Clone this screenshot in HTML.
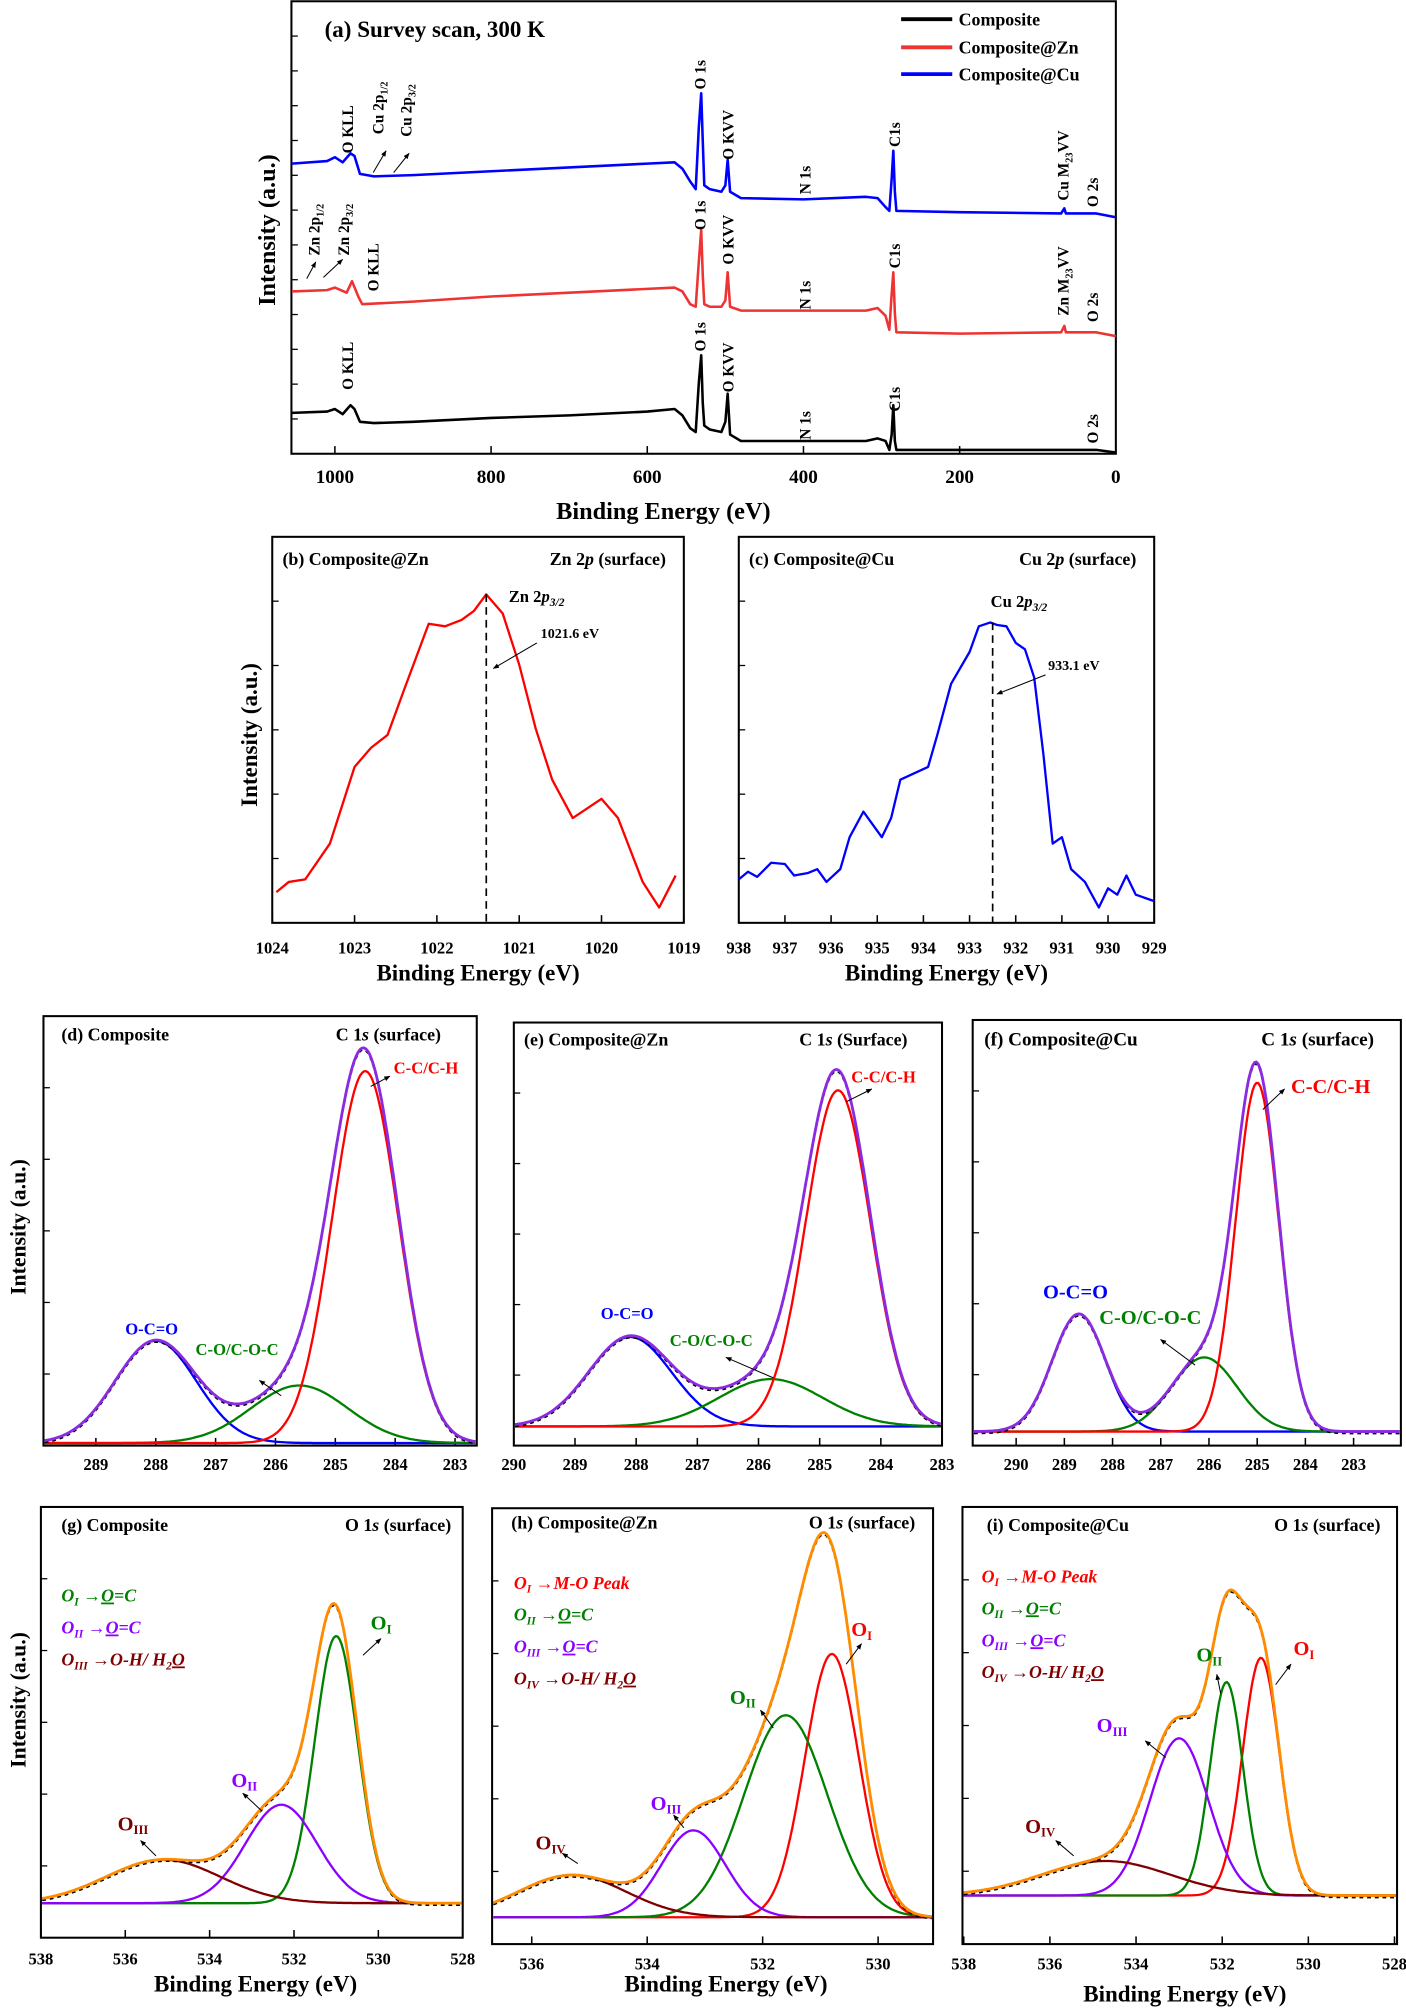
<!DOCTYPE html>
<html><head><meta charset="utf-8">
<style>
html,body{margin:0;padding:0;background:#fff;}
svg{display:block;font-family:"Liberation Serif",serif;font-weight:bold;}
</style></head>
<body>
<svg id="fig" width="1406" height="2008" viewBox="0 0 1100 1571" xmlns="http://www.w3.org/2000/svg">
<defs>
<marker id="ah" viewBox="0 0 10 10" refX="9" refY="5" markerWidth="6" markerHeight="6" orient="auto"><path d="M0,1 L10,5 L0,9 z" fill="#000"/></marker>
</defs>
</svg>
<script>
// ---------- Panel (a) survey data ----------
const surveyE = [1055,1010,1000,990,980,975,968,950,900,800,700,600,565,555,545,538,534,531,529,527,520,505,500,497,494,480,400,320,305,295,290,287,285,283,281,200,70,66,64,25,0];
const surveyBlue = [227,229,232,228,235,233,219,217,218,221,224,227,228,223,213,207,255,282,245,210,207,205,210,230,205,200,199,201,200,193,190,215,237,205,190,189,188,192,188,188,185];
const surveyBlack = [32,33,35,31,38,35,25,24,25,28,30,33,35,30,20,17,55,77,40,22,19,17,25,47,15,10,10,10,12,10,3,15,38,10,3,3,3,3,3,3,1];
const surveyRedE = [1055,1010,1000,985,978,970,965,900,800,700,600,565,555,545,538,534,531,529,527,520,505,500,497,494,480,400,320,305,295,290,287,285,283,281,200,70,66,64,25,0];
const surveyRed = [127,128,130,126,135,123,117,119,123,126,129,130,127,117,115,150,175,140,117,115,115,120,142,115,112,112,112,114,108,97,125,142,110,95,94,95,100,95,95,92];
const surveyTicks = [1000,800,600,400,200,0];

// ---------- Panel (b) Zn 2p ----------
const znE = [1023.95,1023.8,1023.6,1023.3,1023.0,1022.8,1022.6,1022.4,1022.1,1021.9,1021.7,1021.55,1021.4,1021.2,1021.0,1020.8,1020.6,1020.35,1020.0,1019.8,1019.5,1019.3,1019.1];
const znI = [24,32,34,62,122,137,147,182,234,232,237,244,257,242,202,152,112,82,97,82,32,12,37];
const znTicks = [1024,1023,1022,1021,1020,1019];
// ---------- Panel (c) Cu 2p ----------
const cuE = [938,937.8,937.6,937.3,937.0,936.8,936.5,936.3,936.1,935.8,935.6,935.3,935.1,934.9,934.7,934.5,934.2,933.9,933.7,933.4,933.0,932.8,932.55,932.4,932.2,932.0,931.8,931.6,931.4,931.2,931.0,930.8,930.5,930.2,930.0,929.8,929.6,929.4,929.0];
const cuI = [34,40,36,47,46,37,39,42,32,42,67,87,77,67,82,112,117,122,147,187,212,232,235,233,232,219,214,192,132,62,67,42,32,12,27,22,37,22,17];
const cuTicks = [938,937,936,935,934,933,932,931,930,929];

// ---------- C 1s fits (d,e,f) : centers (eV), heights, FWHM (eV) ----------
const dCenters = [288.0,285.6,284.5]; const dHeights = [80,45,291]; const dFwhm = [1.6,1.9,1.3];
const eCenters = [288.1,285.8,284.7]; const eHeights = [70,37,263]; const eFwhm = [1.6,2.0,1.25];
const fCenters = [288.7,286.1,285.0]; const fHeights = [92,58,273]; const fFwhm = [1.3,1.6,1.05];
const cTicksD = [289,288,287,286,285,284,283];
const cTicksE = [290,289,288,287,286,285,284,283];
const cTicksF = [290,289,288,287,286,285,284,283];
// ---------- O 1s fits (g,h,i) ----------
const gCenters = [531.0,532.3,535.1]; const gHeights = [209,77,34]; const gFwhm = [1.2,2.0,3.2];
const hCenters = [530.8,531.6,533.2,535.3]; const hHeights = [206,158,68,33]; const hFwhm = [1.1,1.7,1.3,2.2];
const iCenters = [531.1,531.9,533.0,534.7]; const iHeights = [186,167,123,27]; const iFwhm = [1.0,0.9,1.6,3.5];
const oTicksG = [538,536,534,532,530,528];
const oTicksH = [536,534,532,530];
const oTicksI = [538,536,534,532,530,528];

const NS = "http://www.w3.org/2000/svg";
const svg = document.getElementById('fig');
function el(tag, attrs, parent){ const e=document.createElementNS(NS,tag); for(const k in attrs) e.setAttribute(k,attrs[k]); (parent||svg).appendChild(e); return e; }
function lin(d0,d1,r0,r1){ return v => r0 + (v-d0)*(r1-r0)/(d1-d0); }
function txt(x,y,s,size,opts){ opts=opts||{}; const t=el('text',{x:x,y:y,'font-size':size,fill:opts.fill||'#000','text-anchor':opts.anchor||'start'}); if(opts.rot) t.setAttribute('transform','rotate(-90 '+x+' '+y+')'); if(opts.italic) t.setAttribute('font-style','italic'); t.innerHTML=s; return t; }

function frame(name,x0,y0,x1,y1){
  const r=el('rect',{x:x0,y:y0,width:x1-x0,height:y1-y0,fill:'none',stroke:'#000','stroke-width':1.6});
  
  
}
function xTicks(name,ticks,xs,y1,ly,size){
  const g=el('g',{});
  
  
  ticks.forEach(t=>{ el('line',{x1:xs(t),x2:xs(t),y1:y1,y2:y1-6,stroke:'#000','stroke-width':1.2},g); const tt=txt(xs(t),ly,String(t),size,{anchor:'middle'}); g.appendChild(tt); });
}
function yMinorTicks(x0,y0,y1,n){ for(let i=1;i<n;i++){ const y=y0+(y1-y0)*i/n; el('line',{x1:x0,x2:x0+5,y1:y,y2:y,stroke:'#000','stroke-width':1}); } }
function polyline(name,xsArr,ysArr,color,w,dash){
  const p=el('polyline',{points:xsArr.map((x,i)=>x.toFixed(1)+','+ysArr[i].toFixed(1)).join(' '),fill:'none',stroke:color,'stroke-width':w,'stroke-linejoin':'round'});
  if(dash) p.setAttribute('stroke-dasharray',dash);
  
  
  return p;
}
function arrow(x1,y1,x2,y2){ el('line',{x1:x1,y1:y1,x2:x2,y2:y2,stroke:'#000','stroke-width':0.8,'marker-end':'url(#ah)'}); }

// ===== Panel (a) =====
(function(){
  const xs=lin(1000,0,262,873), ys=v=>355-v;
  frame('survey',228,1,873,355);
  yMinorTicks(228,1,355,13);
  xTicks('survey',surveyTicks,xs,355,378,15);
  polyline('survey-composite-cu',surveyE.map(xs),surveyBlue.map(ys),'#0000ff',2);
  polyline('survey-composite-zn',surveyRedE.map(xs),surveyRed.map(ys),'#ee3333',2);
  polyline('survey-composite',surveyE.map(xs),surveyBlack.map(ys),'#000',2);
  txt(519,406,'Binding Energy (eV)',19,{anchor:'middle'});
  txt(215,180,'Intensity (a.u.)',19,{anchor:'middle',rot:true});
  txt(254,29,'(a) Survey scan, 300 K',18);
  const leg=[['Composite','#000',15],['Composite@Zn','#ee3333',37],['Composite@Cu','#0000ff',58]];
  leg.forEach(l=>{ const g=el('g',{});   el('line',{x1:705,x2:745,y1:l[2],y2:l[2],stroke:l[1],'stroke-width':3},g); g.appendChild(txt(750,l[2]+5,l[0],14)); });
  const sub=(a,b)=>a+'<tspan font-size="8" dy="3">'+b+'</tspan>';
  const lab=[
   [276,120,'O KLL'],[300,105,'Cu 2p'+'<tspan font-size="8" dy="3">1/2</tspan>'],[322,107,'Cu 2p<tspan font-size="8" dy="3">3/2</tspan>'],
   [552,70,'O 1s'],[574,125,'O KVV'],[634,152,'N 1s'],[704,115,'C1s'],[836,157,'Cu M<tspan font-size="8" dy="3">23</tspan><tspan dy="-3">VV</tspan>'],[859,162,'O 2s'],
   [250,200,'Zn 2p<tspan font-size="8" dy="3">1/2</tspan>'],[273,200,'Zn 2p<tspan font-size="8" dy="3">3/2</tspan>'],[296,228,'O KLL'],
   [552,180,'O 1s'],[574,207,'O KVV'],[634,242,'N 1s'],[704,210,'C1s'],[836,247,'Zn M<tspan font-size="8" dy="3">23</tspan><tspan dy="-3">VV</tspan>'],[859,252,'O 2s'],
   [276,305,'O KLL'],[552,275,'O 1s'],[574,307,'O KVV'],[634,344,'N 1s'],[704,322,'C1s'],[859,347,'O 2s']];
  lab.forEach(l=>{ const t=txt(l[0],l[1],l[2],12,{rot:true});   });
  arrow(292,135,302,118); arrow(308,135,320,120); arrow(240,218,247,205); arrow(253,217,268,203);
})();

// ===== Panels (b),(c) =====
function corePanel(key,x0,y0,x1,y1,t0,t1,ticks,E,I,color,title,region,peakLbl,peakE,lblX,lblY,evLbl,evX,evY,arr){
  const xs=lin(t0,t1,x0,x1), ys=v=>y1-v;
  frame(key,x0,y0,x1,y1);
  yMinorTicks(x0,y0,y1,6);
  xTicks(key,ticks,xs,y1,y1+24,13);
  polyline(key+'-spectrum',E.map(xs),I.map(ys),color,1.8);
  let top=1e9; E.forEach((e,i)=>{ if(Math.abs(e-peakE)<0.2) top=Math.min(top,ys(I[i])); });
  const dl=el('line',{x1:xs(peakE),x2:xs(peakE),y1:top,y2:y1,stroke:'#000','stroke-width':1.3,'stroke-dasharray':'6,4'});
   
  txt(x0+8,y0+22,title,14);
  txt(x1-14,y0+22,region,14,{anchor:'end'});
  txt(lblX,lblY,peakLbl,13);
  txt(evX,evY,evLbl,11);
  arrow(arr[0],arr[1],arr[2],arr[3]);
  txt((x0+x1)/2,y1+45,'Binding Energy (eV)',18,{anchor:'middle'});
}
corePanel('zn2p',213,420,535,722,1024,1019,znTicks,znE,znI,'#ff0000','(b) Composite@Zn','Zn 2<tspan font-style="italic">p</tspan> (surface)','Zn 2<tspan font-style="italic">p</tspan><tspan font-size="9" dy="3" font-style="italic">3/2</tspan>',1021.4,398,471,'1021.6 eV',423,499,[420,503,386,523]);
corePanel('cu2p',578,420,903,722,938,929,cuTicks,cuE,cuI,'#0000ff','(c) Composite@Cu','Cu 2<tspan font-style="italic">p</tspan> (surface)','Cu 2<tspan font-style="italic">p</tspan><tspan font-size="9" dy="3" font-style="italic">3/2</tspan>',932.5,775,475,'933.1 eV',820,524,[818,528,780,543]);
txt(201,575,'Intensity (a.u.)',18,{anchor:'middle',rot:true});

// ===== Fit panels =====
function gauss(e,c,h,w){ return h*Math.exp(-4*Math.LN2*(e-c)*(e-c)/(w*w)); }
function fitPanel(key,x0,y0,x1,y1,tA,xA,tB,xB,base,ticks,C,H,W,colors,envColor,tickY){
  const xs=lin(tA,tB,xA,xB), ev=lin(xA,xB,tA,tB), ys=v=>base-v;
  frame(key,x0,y0,x1,y1);
  yMinorTicks(x0,y0,y1,6);
  xTicks(key,ticks,xs,y1,tickY,13);
  const N=220, px=[], es=[];
  for(let i=0;i<=N;i++){ const x=x0+1+(x1-x0-2)*i/N; px.push(x); es.push(ev(x)); }
  const env=es.map(()=>0);
  C.forEach((c,k)=>{ const v=es.map(e=>gauss(e,c,H[k],W[k])); v.forEach((a,i)=>env[i]+=a);
    polyline(key+'-component-'+(k+1),px,v.map(ys),colors[k],1.8); });
  polyline(key+'-raw-data',px,env.map(v=>ys(v)+1.5),'#000',1.4,'3,3');
  polyline(key+'-envelope',px,env.map(ys),envColor,2.2);
}
fitPanel('c1s-composite',34,795,373,1131,289,75,283,356,1129,cTicksD,dCenters,dHeights,dFwhm,['#0000ff','#008000','#ff0000'],'#8a2be2',1150);
fitPanel('c1s-zn',402,800,737,1131,290,402,283,737,1116,cTicksE,eCenters,eHeights,eFwhm,['#0000ff','#008000','#ff0000'],'#8a2be2',1150);
fitPanel('c1s-cu',761,798,1096,1131,290,795,283,1059,1120,cTicksF,fCenters,fHeights,fFwhm,['#0000ff','#008000','#ff0000'],'#8a2be2',1150);
fitPanel('o1s-composite',32,1179,362,1516,538,32,528,362,1489,oTicksG,gCenters,gHeights,gFwhm,['#008000','#8b00ff','#800000'],'#ff8c00',1537);
fitPanel('o1s-zn',385,1180,730,1521,536,416,530,687,1500,oTicksH,hCenters,hHeights,hFwhm,['#ff0000','#008000','#8b00ff','#800000'],'#ff8c00',1541);
fitPanel('o1s-cu',753,1179,1093,1521,538,754,528,1091,1483,oTicksI,iCenters,iHeights,iFwhm,['#ff0000','#008000','#8b00ff','#800000'],'#ff8c00',1541);

// titles row 2
txt(48,814,'(d) Composite',14); txt(345,814,'C 1<tspan font-style="italic">s</tspan> (surface)',14,{anchor:'end'});
txt(410,818,'(e) Composite@Zn',14); txt(710,818,'C 1<tspan font-style="italic">s</tspan> (Surface)',14,{anchor:'end'});
txt(770,818,'(f)  Composite@Cu',15); txt(1075,818,'C 1<tspan font-style="italic">s</tspan> (surface)',15,{anchor:'end'});
txt(98,1044,'O-C=O',13,{fill:'#0000ff'}); txt(153,1060,'C-O/C-O-C',13,{fill:'#008000'}); txt(308,840,'C-C/C-H',13,{fill:'#ff0000'});
arrow(220,1092,203,1080); arrow(290,850,305,842);
txt(470,1032,'O-C=O',13,{fill:'#0000ff'}); txt(524,1053,'C-O/C-O-C',13,{fill:'#008000'}); txt(666,847,'C-C/C-H',13,{fill:'#ff0000'});
arrow(605,1078,568,1062); arrow(662,862,682,852);
txt(816,1016,'O-C=O',16,{fill:'#0000ff'}); txt(860,1036,'C-O/C-O-C',16,{fill:'#008000'}); txt(1010,855,'C-C/C-H',16,{fill:'#ff0000'});
arrow(935,1068,908,1048); arrow(988,868,1005,852);
txt(20,960,'Intensity (a.u.)',17,{anchor:'middle',rot:true});

// row 3
txt(48,1198,'(g) Composite',14); txt(353,1198,'O 1<tspan font-style="italic">s</tspan> (surface)',14,{anchor:'end'});
txt(400,1196,'(h) Composite@Zn',14); txt(716,1196,'O 1<tspan font-style="italic">s</tspan> (surface)',14,{anchor:'end'});
txt(772,1198,'(i) Composite@Cu',14); txt(1080,1198,'O 1<tspan font-style="italic">s</tspan> (surface)',14,{anchor:'end'});
function olab(x,y,sub,rest,color){ const t=txt(x,y,'O<tspan font-size="9" dy="3">'+sub+'</tspan><tspan dy="-3"> \u2192</tspan>'+rest,14,{fill:color,italic:true});   }
function plab(x,y,sub,color){ txt(x,y,'O<tspan font-size="10" dy="3">'+sub+'</tspan>',16,{fill:color}); }
olab(48,1253,'I','<tspan text-decoration="underline">O</tspan>=C','#008000');
olab(48,1278,'II','<tspan text-decoration="underline">O</tspan>=C','#8b00ff');
olab(48,1303,'III','O-H/ H<tspan font-size="9" dy="3">2</tspan><tspan dy="-3" text-decoration="underline">O</tspan>','#800000');
plab(290,1275,'I','#008000'); plab(181,1398,'II','#8b00ff'); plab(92,1432,'III','#800000');
arrow(284,1295,298,1282); arrow(205,1417,190,1403); arrow(122,1452,110,1440);
const oRows=[['I','M-O Peak','#ff0000'],['II','<tspan text-decoration="underline">O</tspan>=C','#008000'],['III','<tspan text-decoration="underline">O</tspan>=C','#8b00ff'],['IV','O-H/ H<tspan font-size="9" dy="3">2</tspan><tspan dy="-3" text-decoration="underline">O</tspan>','#800000']];
oRows.forEach((r,k)=>{ olab(402,1243+25*k,r[0],r[1],r[2]); olab(768,1238+25*k,r[0],r[1],r[2]); });
plab(666,1280,'I','#ff0000'); plab(571,1333,'II','#008000'); plab(509,1416,'III','#8b00ff'); plab(419,1447,'IV','#800000');
arrow(662,1302,674,1286); arrow(605,1352,595,1338); arrow(535,1430,527,1420); arrow(452,1458,440,1450);
plab(1012,1295,'I','#ff0000'); plab(936,1300,'II','#008000'); plab(858,1355,'III','#8b00ff'); plab(802,1434,'IV','#800000');
arrow(998,1318,1010,1302); arrow(955,1325,952,1310); arrow(912,1375,896,1362); arrow(840,1452,826,1440);
txt(20,1330,'Intensity (a.u.)',17,{anchor:'middle',rot:true});
txt(200,1558,'Binding Energy (eV)',18,{anchor:'middle'});
txt(568,1558,'Binding Energy (eV)',18,{anchor:'middle'});
txt(927,1566,'Binding Energy (eV)',18,{anchor:'middle'});
</script>
</body></html>
